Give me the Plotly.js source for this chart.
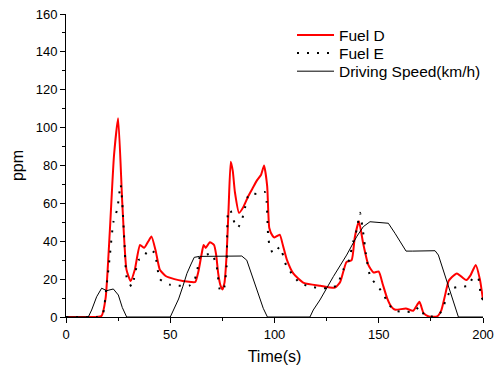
<!DOCTYPE html>
<html>
<head>
<meta charset="utf-8">
<script src="https://cdn.plot.ly/plotly-3.0.1.min.js"></script>
<style>html,body{margin:0;padding:0;background:#fff;}#chart{width:501px;height:368px;}</style>
</head>
<body>
<div id="chart"></div>
<script>
// Fuel D (red solid)
var fuelD_t = [0, 10, 17, 19, 21, 23, 25, 27, 29, 31, 33, 35.5, 37.5, 39.5, 41, 43, 45, 48, 52, 56, 60, 62, 63.5, 65, 66, 67, 69, 71, 72, 73, 74, 75, 76, 77, 78, 79, 80, 81, 83, 85, 87.5, 89.5, 91.5, 93.5, 95, 96.5, 97.5, 99, 100, 102.5, 104, 106, 109, 114, 122, 129, 131.5, 133, 134.5, 137, 138.5, 140.5, 142.5, 145, 147.5, 150, 152, 154, 156, 158, 163, 166.5, 169.5, 171.5, 174, 178, 180, 181.5, 183.5, 185, 187.5, 190, 192, 194, 196.5, 198.5, 200];
var fuelD_v = [0, 0, 0.5, 10, 45, 85, 105, 60, 25, 19, 25, 38, 36.5, 40, 42.5, 35, 25, 21.5, 20, 19, 18.5, 18.5, 24, 33, 38, 36.5, 39.5, 38, 33, 23, 17, 14.5, 18, 32, 58, 82, 77, 66, 55, 58, 64, 68, 72, 75, 80, 69, 47, 43, 42, 43.5, 38, 30, 23, 18, 16.5, 15.5, 18.5, 24, 29, 30, 42, 50.5, 39, 27.5, 23.5, 24, 17, 10, 5.5, 3.8, 4.5, 3.3, 8, 2, 0.3, 0.3, 3.5, 10, 19, 21, 23, 21, 19.5, 22, 27.5, 20, 9];

// Fuel E (black dotted)
var fuelE_t = [0, 5, 10, 15, 17.5, 19.5, 21, 22.7, 24.6, 26.2, 27, 28, 29.1, 31.5, 33, 34.7, 37, 39.5, 42.5, 45, 50, 54, 59, 61, 62.7, 64.3, 67.5, 70, 72.3, 73.9, 75.5, 77, 77.9, 79, 80, 82.3, 84.3, 85.5, 87.8, 92, 95.4, 96.2, 97, 97.8, 99.4, 102.6, 105.5, 108.2, 112, 116, 120, 125, 129.8, 133, 135.4, 137.8, 139.4, 141, 142.5, 144, 146, 149, 152, 154.6, 157.8, 162, 166.6, 169.5, 172.2, 176, 179.4, 182.6, 185, 189, 193, 195.3, 197.7, 199, 200];
var fuelE_v = [0, 0, 0, 0, 1, 17, 32, 50, 57, 70, 60, 40, 21, 16, 22, 30, 31, 35.5, 34, 20, 17, 16.5, 16.5, 18, 23, 32, 33, 33.5, 26.5, 14, 14, 26.5, 56.5, 56, 52, 47, 51, 56, 65, 65, 66, 61, 42, 37, 33.5, 37, 27.5, 23, 18, 16.4, 15.5, 15.2, 16.5, 25, 29, 40, 46, 55, 45, 32, 21, 17, 12.5, 7, 3.3, 2.8, 2.8, 5.3, 0.5, 0.3, 2, 10, 15, 16, 16.5, 21, 20.5, 11, 9];

// Driving speed (black thin)
var speed_t = [0, 10.7, 12.3, 14.7, 17.1, 19.5, 22.7, 25.1, 27, 29.1, 50, 52, 54, 56, 58, 60, 61.5, 64, 84.3, 86.7, 90.6, 94.6, 96.6, 117, 118.6, 121.8, 128.2, 134.6, 139.4, 142.6, 145.8, 150, 154.6, 157.8, 163.1, 166.3, 177, 178.6, 182.6, 185.8, 188.2, 200];
var speed_v = [0, 0, 3.7, 10.7, 15.2, 13.9, 14.8, 11.6, 5, 0, 0, 5, 9.5, 16, 23, 28, 31.5, 32, 32.2, 30, 17.8, 4.6, 0, 0, 3.7, 9, 21.3, 32.7, 42.4, 47.7, 50.3, 50, 49.5, 44.2, 34.8, 34.8, 35, 32.7, 19.5, 8.1, 0, 0];

var seriesNames = ["Fuel D", "Fuel E", "Driving Speed(km/h)"];
var xTickVals = [0, 50, 100, 150, 200];
var yTickVals = [0, 20, 40, 60, 80, 100, 120, 140, 160];

var FONT = '"Liberation Sans", Arial, sans-serif';

var traces = [
  {x: fuelD_t, y: fuelD_v, name: seriesNames[0], mode: 'lines', legend: 'legend',
   line: {color: '#ff0000', width: 2, shape: 'spline', smoothing: 0.5}},
  {x: fuelE_t, y: fuelE_v, name: seriesNames[1], mode: 'lines', legend: 'legend2',
   line: {color: '#000000', width: 2, dash: '2px,8px', shape: 'spline', smoothing: 0.5}},
  {x: speed_t, y: speed_v, name: seriesNames[2], mode: 'lines', legend: 'legend3',
   line: {color: '#000000', width: 1}}
];

function legendAt(y) {
  return {x: 0.542, y: y, xanchor: 'left', yanchor: 'top',
          bgcolor: 'rgba(0,0,0,0)', borderwidth: 0, itemwidth: 37,
          font: {family: FONT, size: 15.5, color: '#000'}};
}

var layout = {
  width: 501, height: 368,
  margin: {l: 66, r: 18, t: 14, b: 51},
  paper_bgcolor: '#ffffff', plot_bgcolor: '#ffffff',
  font: {family: FONT, size: 13, color: '#000'},
  showlegend: true,
  legend: legendAt(0.985),
  legend2: legendAt(0.926),
  legend3: legendAt(0.866),
  xaxis: {
    range: [0, 200], tickvals: xTickVals, ticktext: xTickVals.map(String),
    showgrid: false, zeroline: false, showline: true, linecolor: '#000', linewidth: 1,
    ticks: 'outside', ticklen: 5, tickwidth: 1, tickcolor: '#000',
    minor: {dtick: 25, tick0: 0, ticks: 'outside', ticklen: 3, tickcolor: '#000', showgrid: false},
    tickfont: {family: FONT, size: 13, color: '#000'},
    title: {text: 'Time(s)', font: {family: FONT, size: 16, color: '#000'}, standoff: 10},
    layer: 'below traces', automargin: false
  },
  yaxis: {
    range: [0, 160], tickvals: yTickVals, ticktext: yTickVals.map(String),
    showgrid: false, zeroline: false, showline: true, linecolor: '#000', linewidth: 1,
    ticks: 'outside', ticklen: 5, tickwidth: 1, tickcolor: '#000',
    minor: {dtick: 10, tick0: 0, ticks: 'outside', ticklen: 3, tickcolor: '#000', showgrid: false},
    tickfont: {family: FONT, size: 13, color: '#000'},
    title: {text: 'ppm', font: {family: FONT, size: 16, color: '#000'}, standoff: 8},
    layer: 'below traces', automargin: false
  }
};

Plotly.newPlot('chart', traces, layout, {displayModeBar: false, staticPlot: true});
</script>
</body>
</html>
